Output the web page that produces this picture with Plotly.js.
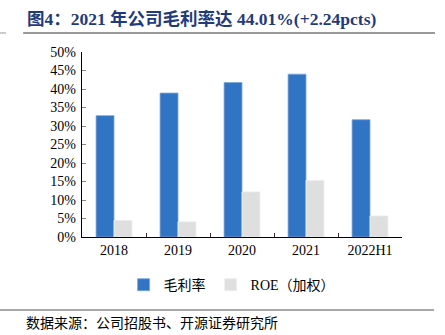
<!DOCTYPE html>
<html><head><meta charset="utf-8">
<script src="https://cdn.plot.ly/plotly-3.0.1.min.js"></script>
<style>body{margin:0;background:#fff}#c{width:445px;height:335px}</style>
</head><body><div id="c"></div>
<script>
const categories = ['2018','2019','2020','2021','2022H1'];
const grossMargin = [32.8, 38.9, 41.77, 44.01, 31.7];
const roe = [4.5, 4.1, 12.2, 15.3, 5.7];
const yTickVals = [0,5,10,15,20,25,30,35,40,45,50];
const yTickText = yTickVals.map(v => v + '%');
const seriesNames = ['毛利率', 'ROE（加权）'];
const titleText = '图4：2021 年公司毛利率达 44.01%(+2.24pcts)';
const sourceText = '数据来源：公司招股书、开源证券研究所';

const serif = '"Liberation Serif", "Times New Roman", "Noto Sans CJK SC", serif';
const traces = [
  {type:'bar', x:categories, y:grossMargin, name:seriesNames[0],
   marker:{color:'#3174C4', line:{color:'#7AA6DC', width:0.8}}},
  {type:'bar', x:categories, y:roe, name:seriesNames[1],
   marker:{color:'#DFDFDF', line:{color:'#EEEEEE', width:0.8}}}
];
const layout = {
  width:445, height:335,
  margin:{l:82, r:43, t:52, b:98},
  paper_bgcolor:'#fff', plot_bgcolor:'#fff',
  barmode:'group', bargap:0.44, bargroupgap:0,
  font:{family:serif, size:14, color:'#000'},
  xaxis:{type:'category', showline:true, linecolor:'#000', linewidth:1.2,
    ticks:'inside', tickson:'boundaries', ticklen:4, tickcolor:'#333',
    showgrid:false, zeroline:false, tickfont:{size:14, family:serif}},
  yaxis:{range:[0,50], showline:true, linecolor:'#000', linewidth:1.2,
    ticks:'inside', ticklen:4, tickcolor:'#888', tickvals:yTickVals, ticktext:yTickText,
    showgrid:false, zeroline:false, tickfont:{size:14, family:serif}, ticklabelstandoff:2},
  showlegend:true,
  legend:{orientation:'h', x:0.13, xanchor:'left', y:-0.26, yanchor:'middle',
    font:{size:14, family:serif}, itemwidth:30, traceorder:'normal'},
  annotations:[
    {text:'<b>'+titleText+'</b>', xref:'paper', yref:'paper', x:-0.178, y:1.18,
     xanchor:'left', yanchor:'middle', showarrow:false,
     font:{size:17.5, color:'#1F3B7B', family:serif}},
    {text:sourceText, xref:'paper', yref:'paper', x:-0.181, y:-0.465,
     xanchor:'left', yanchor:'middle', showarrow:false,
     font:{size:14, color:'#000', family:serif}}
  ],
  shapes:[
    {type:'line', xref:'paper', yref:'paper', x0:-0.184, x1:1.103, y0:1.1027, y1:1.1027,
     line:{color:'#777', width:1.5}},
    {type:'line', xref:'paper', yref:'paper', x0:-0.2563, x1:-0.2375, y0:1.1027, y1:1.1027,
     line:{color:'#999', width:1}},
    {type:'line', xref:'paper', yref:'paper', x0:-0.2563, x1:1.1, y0:-0.3946, y1:-0.3946,
     line:{color:'#555', width:1.2}}
  ]
};
Plotly.newPlot('c', traces, layout, {displayModeBar:false, staticPlot:true});
</script></body></html>
